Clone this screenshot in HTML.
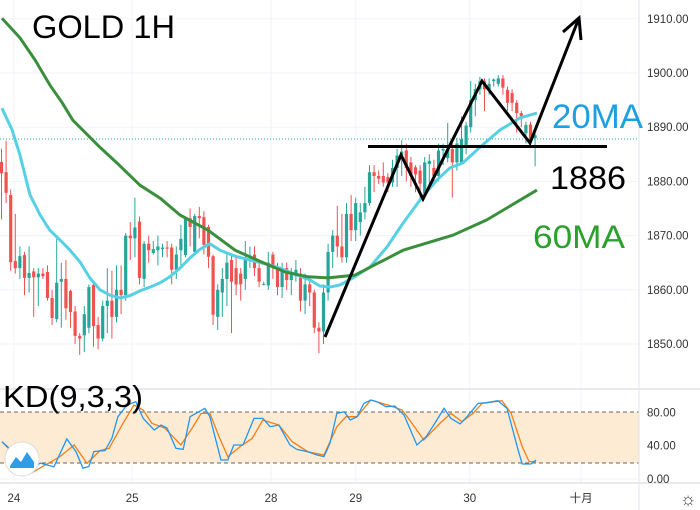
<!DOCTYPE html>
<html><head><meta charset="utf-8"><style>
html,body{margin:0;padding:0;background:#fff;}
svg{display:block;font-family:"Liberation Sans","Noto Sans CJK SC",sans-serif;}
</style></head><body>
<svg id="chart" width="700" height="510" viewBox="0 0 700 510">
<g id="grid"></g>
<rect x="0" y="412" width="639" height="51" fill="#fdebd3"/>
<line x1="0" y1="412" x2="639" y2="412" stroke="#666" stroke-dasharray="4,3"/>
<line x1="0" y1="463" x2="639" y2="463" stroke="#666" stroke-dasharray="4,3"/>
<line x1="0" y1="139" x2="639" y2="139" stroke="#26a69a" stroke-dasharray="1,2"/>
<g id="candles"></g>
<g id="mas"></g>
<g id="kd"></g>
<line x1="639" y1="0" x2="639" y2="510" stroke="#e0e3eb"/>
<line x1="0" y1="389" x2="700" y2="389" stroke="#e0e3eb" stroke-width="1.5"/>
<line x1="0" y1="483" x2="700" y2="483" stroke="#e0e3eb" stroke-width="1.5"/>
<g id="axes" font-size="11.5" fill="#333"></g>
<text x="32" y="38" font-size="32" fill="#000" textLength="143" lengthAdjust="spacingAndGlyphs">GOLD 1H</text>
<text x="3" y="407" font-size="31" fill="#000" textLength="140" lengthAdjust="spacingAndGlyphs">KD(9,3,3)</text>
<text x="552" y="128" font-size="34" fill="#1e9fe0" textLength="91" lengthAdjust="spacingAndGlyphs">20MA</text>
<text x="550" y="189" font-size="32" fill="#000" textLength="76" lengthAdjust="spacingAndGlyphs">1886</text>
<text x="533" y="248" font-size="32" fill="#2ca02c" textLength="92" lengthAdjust="spacingAndGlyphs">60MA</text>
<g stroke="#000" stroke-width="3" fill="none" stroke-linejoin="miter">
<line x1="368" y1="146.5" x2="607" y2="146.5"/>
<polyline points="325,337 401,155 423,199 482,81 530,143 579,18"/>
<polyline points="563,32 579,18 581,40"/>
</g>
<circle cx="22" cy="459" r="17" fill="#fff" stroke="#ddd"/>
<path d="M10,466 L16,457 L21,462 L27,452 L34,462 L34,468 L10,468 Z" fill="#2e9ce6"/>
<text x="688" y="505" font-size="18" text-anchor="middle" fill="#444">☼</text>
</svg>
<script>
const opens=[1883.6,1881.7,1877.5,1865.3,1864,1866.4,1862.2,1863.4,1862.3,1863,1863.3,1858.5,1854.6,1861.5,1862,1859.8,1856,1851.5,1851.6,1853,1860.9,1853.5,1851,1857,1858,1855,1860,1859,1870,1869.5,1872.6,1862,1868.5,1866.8,1867.3,1867.5,1867.8,1867.8,1863.7,1867.3,1866.4,1873.2,1867,1873.6,1873.4,1871.6,1866.2,1855,1859.5,1862,1865.5,1864,1863,1862,1866,1866.5,1864,1861,1860.8,1866.5,1864,1860.5,1864,1861.8,1862.5,1863,1858,1861,1859.5,1853,1852.3,1859.5,1867,1870,1868,1866,1874,1871,1872.5,1874.3,1876,1881.7,1881,1881,1880.8,1879.8,1882.5,1884.8,1885.7,1883.5,1882.6,1882,1877.5,1883.2,1882.5,1881,1885.7,1884.3,1886,1883.5,1883.5,1886.5,1890,1895,1897,1898.5,1897,1898.5,1898,1899,1896.9,1896.3,1894.5,1892.6,1888.9,1890.5,1888];
const closes=[1881.5,1877.9,1865.1,1864,1866.2,1862.2,1863.1,1862.3,1863,1862.5,1858.5,1854.8,1861.3,1862,1856.6,1855.9,1851.5,1851,1855.5,1860.5,1853.3,1851,1857,1858,1855,1860,1859,1870,1869.5,1871.5,1862.2,1868.5,1867.3,1867.5,1868,1867.8,1867.6,1863.7,1866.5,1869.4,1873.2,1871.6,1873.6,1873.2,1868.3,1866.1,1855.4,1860,1862,1865,1861.5,1861,1861,1866,1866.3,1864,1861.5,1861.1,1865,1864,1860.5,1864,1861.8,1863,1863.7,1858,1861,1859.5,1853,1852.3,1859.5,1867,1870,1868,1866,1874,1871,1876,1874.3,1876,1881.7,1881,1880.5,1879.8,1879.8,1882.5,1884.8,1885.5,1882.5,1881,1881.3,1879.6,1883.5,1883.8,1881,1885.7,1886,1886,1883.5,1887,1887.8,1890.3,1895,1897,1898.5,1897,1898,1898.8,1899,1897.3,1894.5,1894.5,1892.6,1892,1890.4,1887.7,1888.5];
const highs=[1886,1887.5,1878.5,1874,1868,1867,1868,1864,1864,1864,1864.5,1860,1869.4,1865,1865.5,1860,1857,1852,1857,1861,1861.5,1855,1858,1864,1863.5,1864.5,1864.5,1870.5,1872.5,1877,1873.5,1869,1870,1869,1870,1868.5,1869,1868.5,1868,1872,1873.5,1875,1874,1875.3,1874.5,1872,1866.5,1861,1864,1867,1866.5,1866,1864,1869,1868,1868,1865,1861.5,1867,1867,1865,1865,1865,1864,1865.5,1864,1863,1862,1860,1854,1861,1868.5,1871,1875.5,1874,1876,1877.5,1877,1876,1879,1883,1883,1882,1883.5,1881.5,1884,1886,1887.6,1887,1884.5,1883,1883,1884.5,1885,1884,1887,1887,1890.8,1887,1888,1892,1891,1898.5,1898,1899.3,1899,1899,1899,1899.6,1899.6,1897.5,1897,1895,1893,1891,1891,1889];
const lows=[1873,1876,1863.5,1863,1862,1859,1859.5,1855,1857,1862,1858,1853.5,1854,1853,1854.5,1853,1850,1848,1848.5,1852,1849.5,1849,1850.5,1852,1851,1854,1855.5,1858,1865.5,1866,1861,1860.5,1865,1866.5,1864.5,1866,1866,1861,1862,1864.5,1866,1868,1866.5,1869.5,1866.5,1864,1853.5,1852.6,1855,1857,1852,1859,1858,1860,1864,1862.5,1860.5,1860.8,1860,1862,1859,1858.5,1860,1859,1861.5,1856,1855.5,1857,1852,1848.3,1850,1858,1864,1866,1865,1865,1869,1869,1870,1873,1875.5,1878,1879.5,1879,1878,1879,1879,1881,1880,1879,1878,1877,1877,1879,1880,1880,1883,1883.5,1877,1882,1883,1885,1889,1892,1896,1893,1896,1897.5,1897.5,1896,1893,1893,1889,1890,1887,1886.5,1882.8];
const ma20Idx=[0.1,2.3,4,6.2,8.4,10.5,12.7,14.9,17.1,19.2,21.4,23.6,25.8,27.9,30.1,32.3,34.5,36.6,38.8,41,43.2,45.3,47.5,50.8,54,57.3,60.5,63.8,67.1,69.2,71.4,73.6,76.4,80.1,83.8,87.3,91,94.7,97.5,100.3,104,108.4,112.7,116.4];
const ma20Val=[1893.5,1889.5,1884.9,1877.5,1873.8,1871,1869.2,1867.3,1865.1,1862.2,1860,1859,1858.5,1858.9,1859.8,1860.5,1861.3,1862.4,1864,1865.9,1867.5,1868.5,1867.3,1866.2,1865.5,1864.8,1864,1862.9,1861.8,1860.7,1860.5,1860.9,1862.2,1864.2,1867.9,1872.3,1876.6,1880.3,1882.5,1883.4,1886.3,1889.5,1891.7,1892.6];
const ma60Idx=[0.1,4,7.3,10.5,13.2,15.5,21.4,25.1,30.1,34.5,38.8,44.9,50.8,56.6,61.6,66.6,71,76.8,87.3,98.2,105.5,116.4];
const ma60Val=[1910.1,1906.5,1902.4,1897.8,1894.5,1891.3,1886.3,1883.4,1879.3,1876.9,1873.8,1871,1867.3,1865.1,1863.3,1862.4,1862.2,1862.7,1867.3,1870.1,1872.9,1878.4];
const kIdx=[0.1,2.1,5.5,8.4,11.4,14.2,16.2,17.7,19,20.1,22.5,24,25.3,27.3,29.2,30.8,33.2,34.7,36,37.9,39.5,41,42.3,44.2,45.3,47.7,49.2,50.5,52.5,54.9,56.8,58.4,60.3,62.7,64.2,66.6,68.6,70.1,71.4,72.9,74.5,75.8,77.3,78.8,80.3,81.6,83.6,85.5,87.5,90.3,92.3,94.2,96.2,97.7,99.7,101.2,103.6,105.5,107.9,109.9,112.3,113.2,115.1,116.2];
const kVal=[44.7,34.8,8.8,19,14.7,48,32.7,13,15,33,34,49,74.7,88.7,92.7,72.7,58.7,64.7,61,36.8,35.5,74.7,78.7,84.7,74.7,22.8,22.8,40.8,40.8,72.7,72.7,62.7,64.7,40.8,35.5,32.7,28.8,26.8,42.8,78.7,80.7,70.7,74.7,90.7,94.7,92.7,86.7,87.5,76.7,40.8,50.7,66.7,84.7,72.7,66,74.7,90.7,91.5,93.9,84.7,34.8,18,18,22.8];
const dIdx=[0.1,2.5,6.4,9.5,12.7,15.8,18.6,21.4,23.4,26.4,28.8,30.8,32.7,35.5,39,41.4,43.4,45.3,47.3,49.2,52.1,54.5,56.8,60.3,63.2,66.6,70.1,72.9,74.9,77.3,80.3,84,87.1,89.5,91.8,95.3,97.7,100.1,102.5,104.5,108.8,110.8,113.2,114.7,116.2];
const dVal=[44.7,30.8,6.8,16.7,26.8,40.8,18.8,34,36.8,66.7,88.7,82.7,66.7,61,40.8,60.7,78.7,78.7,50.7,26.8,39.8,48.7,70.7,64.7,44.7,32.7,28.8,62.7,74.7,74.7,94.7,88.7,82.7,64.7,46.8,66.7,78.7,68.7,78.7,90.7,93.9,78.7,38.8,20.8,20.8];
const priceTicks=[1910,1900,1890,1880,1870,1860,1850];
const kdTicks=[80,40,0];
const dateLabels=["24","25","28","29","30","十月"];
const dateIdx=[2.7,28.4,58.6,77,101.8,126];

const NS="http://www.w3.org/2000/svg";
const xS=i=>1.5+i*4.6;
const yP=p=>73+(1900-p)*5.42;
const yK=v=>479-v*0.834;
function mk(tag,attrs,parent){const e=document.createElementNS(NS,tag);for(const k in attrs)e.setAttribute(k,attrs[k]);parent.appendChild(e);return e;}
const grid=document.getElementById('grid'),axes=document.getElementById('axes');
priceTicks.forEach(p=>{
  const l=mk('line',{x1:0,x2:639,y1:yP(p),y2:yP(p),stroke:'#f0f3fa'},grid);
  
  
  const t=mk('text',{x:647,y:yP(p)+4},axes);t.textContent=p.toFixed(2);
  
  
});
kdTicks.forEach(v=>{
  const l=mk('line',{x1:0,x2:639,y1:yK(v),y2:yK(v),stroke:'#f0f3fa'},grid);
  
  
  const t=mk('text',{x:647,y:yK(v)+4},axes);t.textContent=v.toFixed(2);
  
  
});
dateLabels.forEach((d,i)=>{
  const x=xS(dateIdx[i]);
  const l=mk('line',{x1:x,x2:x,y1:0,y2:483,stroke:'#f0f3fa'},grid);
  
  
  const t=mk('text',{x:x,y:502,'text-anchor':'middle'},axes);t.textContent=d;
  
  
});
const cg=document.getElementById('candles');
opens.forEach((o,i)=>{
  const c=closes[i],up=c>=o,col=up?'#26a69a':'#ef5350',x=xS(i);
  const w=mk('line',{x1:x,x2:x,y1:yP(highs[i]),y2:yP(lows[i]),stroke:col,'stroke-width':1},cg);
  
  
  const top=yP(Math.max(o,c)),bot=yP(Math.min(o,c));
  const b=mk('rect',{x:x-1.6,y:top,width:3.2,height:Math.max(1,bot-top),fill:col},cg);
  
  
});
const mg=document.getElementById('mas');
const l20=mk('polyline',{points:ma20Idx.map((t,i)=>xS(t)+','+yP(ma20Val[i])).join(' '),fill:'none',stroke:'#57d0e4','stroke-width':3,'stroke-linejoin':'round'},mg);


const l60=mk('polyline',{points:ma60Idx.map((t,i)=>xS(t)+','+yP(ma60Val[i])).join(' '),fill:'none',stroke:'#3a8f3c','stroke-width':3,'stroke-linejoin':'round'},mg);


const kg=document.getElementById('kd');
const dl=mk('polyline',{points:dIdx.map((t,i)=>xS(t)+','+yK(dVal[i])).join(' '),fill:'none',stroke:'#f57f17','stroke-width':1.3},kg);


const kl=mk('polyline',{points:kIdx.map((t,i)=>xS(t)+','+yK(kVal[i])).join(' '),fill:'none',stroke:'#2196f3','stroke-width':1.3},kg);


</script>
</body></html>
